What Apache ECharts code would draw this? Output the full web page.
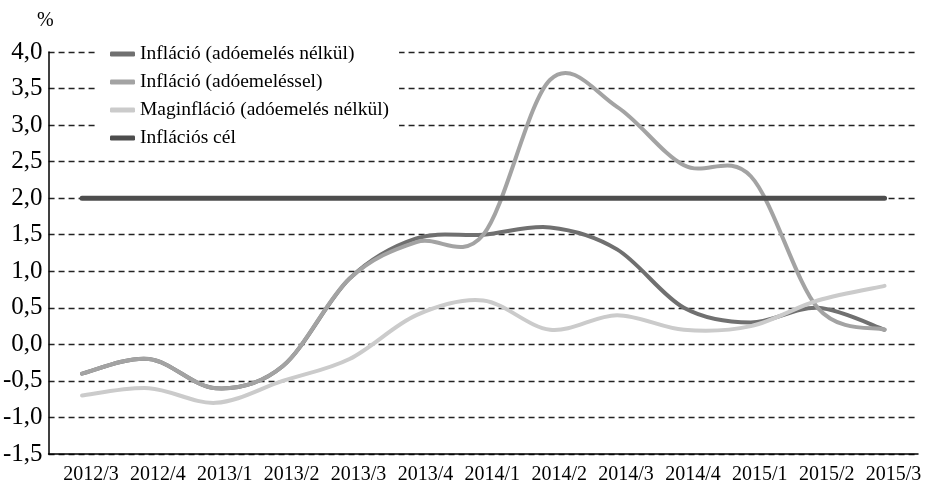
<!DOCTYPE html>
<html>
<head>
<meta charset="utf-8">
<script src="https://cdn.jsdelivr.net/npm/echarts@6/dist/echarts.min.js"></script>
<style>
html,body{margin:0;padding:0;background:#fff;}
#chart{width:926px;height:485px;}
</style>
</head>
<body>
<div id="chart"></div>
<script>
var categories = ['2012/3','2012/4','2013/1','2013/2','2013/3','2013/4','2014/1','2014/2','2014/3','2014/4','2015/1','2015/2','2015/3'];
var inflNoTax   = [-0.4, -0.2, -0.6, -0.3, 0.9, 1.45, 1.5, 1.6, 1.3, 0.5, 0.3, 0.5, 0.2];
var inflWithTax = [-0.4, -0.2, -0.6, -0.3, 0.9, 1.4, 1.5, 3.62, 3.25, 2.45, 2.3, 0.5, 0.2];
var coreInfl    = [-0.7, -0.6, -0.8, -0.5, -0.2, 0.4, 0.6, 0.2, 0.4, 0.2, 0.25, 0.6, 0.8];
var target      = [2, 2, 2, 2, 2, 2, 2, 2, 2, 2, 2, 2, 2];
var seriesNames = ['Infláció (adóemelés nélkül)', 'Infláció (adóemeléssel)', 'Maginfláció (adóemelés nélkül)', 'Inflációs cél'];
var yTicks = {min: -1.5, max: 4, interval: 0.5};

var font = '"Liberation Serif", "Times New Roman", serif';
var chart = echarts.init(document.getElementById('chart'), null, {renderer: 'canvas'});

// Smoothed (Catmull-Rom style) line drawn through the axes' own coordinate mapping
function smoothSeries(name, data, color, width) {
  return {
    name: name, type: 'custom', data: data.map(function (v, i) { return [i, v]; }),
    itemStyle: {color: color},
    animation: false,
    clip: false,
    encode: {x: 0, y: 1},
    renderItem: function (params, api) {
      if (params.dataIndex !== 0) return null;
      var pts = data.map(function (v, i) { return api.coord([i, v]); });
      var n = pts.length;
      var d = 'M' + pts[0][0] + ' ' + pts[0][1];
      for (var i = 0; i < n - 1; i++) {
        var p0 = pts[Math.max(i - 1, 0)], p1 = pts[i], p2 = pts[i + 1], p3 = pts[Math.min(i + 2, n - 1)];
        var c1x = p1[0] + (p2[0] - p0[0]) / 6, c1y = p1[1] + (p2[1] - p0[1]) / 6;
        var c2x = p2[0] - (p3[0] - p1[0]) / 6, c2y = p2[1] - (p3[1] - p1[1]) / 6;
        d += ' C' + c1x + ' ' + c1y + ' ' + c2x + ' ' + c2y + ' ' + p2[0] + ' ' + p2[1];
      }
      return {
        type: 'path',
        shape: {pathData: d},
        style: {fill: null, stroke: color, lineWidth: width, lineCap: 'round', lineJoin: 'round'}
      };
    }
  };
}

chart.setOption({
  animation: false,
  backgroundColor: '#fff',
  textStyle: {fontFamily: font},
  grid: {left: 48, right: 8, top: 52, bottom: 29, containLabel: false},
  legend: {
    orient: 'vertical', left: 97, top: 38,
    backgroundColor: '#fff',
    padding: [6, 10, 6, 13],
    itemWidth: 25, itemHeight: 5, itemGap: 8,
    icon: 'roundRect',
    textStyle: {fontFamily: font, fontSize: 19.5, color: '#000', lineHeight: 20},
    data: seriesNames
  },
  graphic: [{
    type: 'text', left: 37, top: 11,
    style: {text: '%', font: '20px ' + font, fill: '#000'}
  }],
  xAxis: {
    type: 'category', data: categories, boundaryGap: true,
    axisLine: {onZero: false, lineStyle: {color: '#000', width: 1.5}},
    axisTick: {show: false},
    axisLabel: {color: '#000', fontSize: 20, fontFamily: font, margin: 11, padding: [0, 0, 0, 18], interval: 0}
  },
  yAxis: {
    type: 'value', min: yTicks.min, max: yTicks.max, interval: yTicks.interval,
    axisLine: {show: true, onZero: false, lineStyle: {color: '#000', width: 1.5}},
    axisTick: {show: false},
    splitLine: {show: true, lineStyle: {color: '#222', width: 1.3, type: [6, 4]}},
    axisLabel: {color: '#000', fontSize: 25, fontFamily: font, margin: 6,
      formatter: function (v) { return v.toFixed(1).replace('.', ','); }}
  },
  series: [
    smoothSeries(seriesNames[0], inflNoTax, '#707070', 4),
    smoothSeries(seriesNames[1], inflWithTax, '#a3a3a3', 4),
    smoothSeries(seriesNames[2], coreInfl, '#cbcbcb', 4),
    {
      name: seriesNames[3], type: 'line', data: target, symbol: 'none', showSymbol: false,
      lineStyle: {color: '#4d4d4d', width: 5, cap: 'round'}, itemStyle: {color: '#4d4d4d'},
      animation: false, z: 3
    }
  ]
});
</script>
</body>
</html>
